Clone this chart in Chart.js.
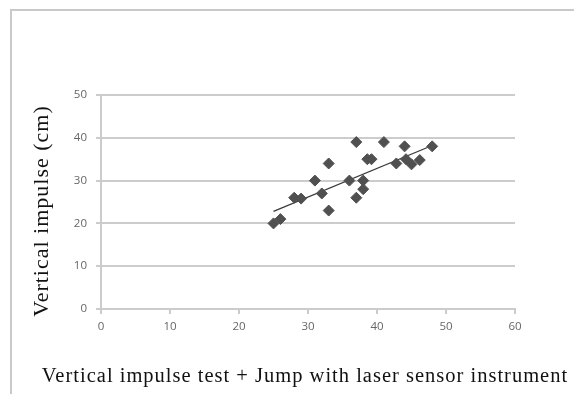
<!DOCTYPE html>
<html>
<head>
<meta charset="utf-8">
<script src="https://cdn.jsdelivr.net/npm/chart.js@4/dist/chart.umd.min.js"></script>
<style>
    html, body { margin: 0; padding: 0; background: #fff; }
    #wrap { position: relative; width: 574px; height: 394px; overflow: hidden; }
    #frame { position: absolute; left: 10px; top: 9px; width: 700px; height: 500px;
             border-left: 2px solid #c9c9c9; border-top: 2px solid #c9c9c9; }
    canvas { position: absolute; left: 0; top: 0; }
</style>
</head>
<body>
<div id="wrap">
    <div id="frame"></div>
    <canvas id="canvas1" width="574" height="394"></canvas>
</div>
<script>
// jump test (x) vs vertical impulse (y)
let laserJump = [25, 26, 28, 29, 31, 32, 33, 33, 36, 37, 37, 38, 38, 38.6, 39.2, 41, 42.8, 44, 44.2, 45, 46.2, 48];
let verticalImpulse = [20, 21, 26, 25.8, 30, 27, 34, 23, 30, 39, 26, 30, 28, 35, 35, 39, 34, 38, 35, 33.8, 34.8, 38];

// trend line end points
let trendX = [25, 48];
let trendY = [22.8, 38.2];

let xTicks = [0, 10, 20, 30, 40, 50, 60];
let yTicks = [0, 10, 20, 30, 40, 50];

let xTitle = 'Vertical impulse test + Jump with laser sensor instrument';
let yTitle = 'Vertical impulse (cm)';

let points = laserJump.map(function (x, i) {
    return {x: x, y: verticalImpulse[i]};
});
let trend = trendX.map(function (x, i) {
    return {x: x, y: trendY[i]};
});

let gridColor = '#cccccc';
let tickFont = {family: 'Open Sans', size: 11.5};

// axis titles drawn by hand, Chart.js squeezes them to the scale width
let axisTitles = {
    id: 'axisTitles',
    afterDraw: function (chart) {
        let c = chart.ctx;
        c.save();
        c.fillStyle = '#111111';
        c.textAlign = 'center';
        c.textBaseline = 'middle';
        c.letterSpacing = '1px';
        c.font = '20.5px "Liberation Serif"';
        c.fillText(xTitle, 305, 377);
        c.translate(42, 211);
        c.rotate(-Math.PI / 2);
        c.font = '22px "Liberation Serif"';
        c.fillText(yTitle, 0, 0);
        c.restore();
    }
};

let ctx1 = document.getElementById('canvas1').getContext('2d');
let chart1 = new Chart(ctx1, {
    type: 'scatter',
    data: {
        datasets: [{
            data: points,
            pointStyle: 'rectRot',
            radius: 5.5,
            backgroundColor: '#505050',
            borderColor: '#505050',
            borderWidth: 1,
            order: 1
        }, {
            type: 'line',
            data: trend,
            borderColor: '#3a3a3a',
            borderWidth: 1.2,
            pointRadius: 0,
            fill: false,
            order: 2
        }]
    },
    options: {
        responsive: false,
        animation: false,
        layout: {padding: {left: 0, top: 95, right: 59, bottom: 0}},
        plugins: {legend: {display: false}, tooltip: {enabled: false}},
        scales: {
            x: {
                type: 'linear',
                min: 0,
                max: 60,
                afterBuildTicks: function (scale) {
                    scale.ticks = xTicks.map(function (v) { return {value: v}; });
                },
                afterFit: function (scale) { scale.height = 85; },
                grid: {drawOnChartArea: false, drawTicks: true, tickLength: 5, color: gridColor, lineWidth: 2},
                border: {color: gridColor, width: 2},
                ticks: {font: tickFont, color: '#666666', padding: 6, maxRotation: 0}
            },
            y: {
                min: 0,
                max: 50,
                afterBuildTicks: function (scale) {
                    scale.ticks = yTicks.map(function (v) { return {value: v}; });
                },
                afterFit: function (scale) { scale.width = 101; },
                grid: {color: gridColor, lineWidth: 2, tickLength: 5},
                border: {color: gridColor, width: 2},
                ticks: {font: tickFont, color: '#666666', padding: 9}
            }
        }
    },
    plugins: [axisTitles]
});
</script>
</body>
</html>
